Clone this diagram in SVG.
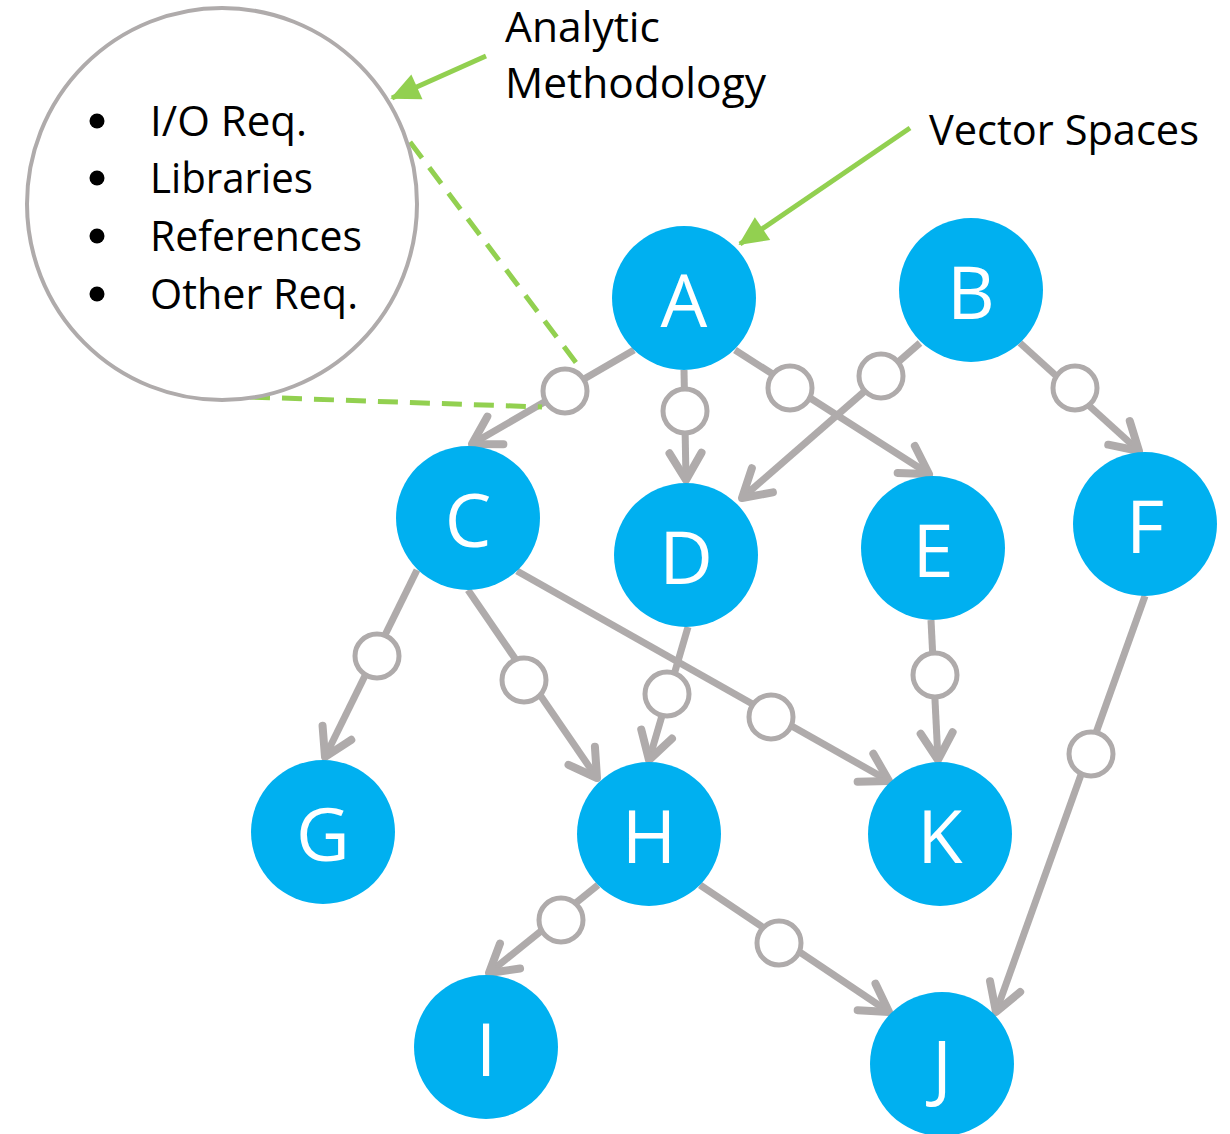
<svg xmlns="http://www.w3.org/2000/svg" width="1230" height="1134" viewBox="0 0 1230 1134">
<defs>
<style>
.node circle{fill:#00B0F0}
.node text{fill:#fff;font-family:"Open Sans","Liberation Sans",sans-serif;font-size:74px;text-anchor:middle}
.edge{stroke:#AFABAB;stroke-width:7;fill:none}
.knot{fill:#fff;stroke:#AFABAB;stroke-width:5}
.lbl{font-family:"Open Sans","Liberation Sans",sans-serif;font-size:42px;fill:#000}
.green{stroke:#92D050;stroke-width:5;fill:none}
.gdash{stroke:#92D050;stroke-width:5;fill:none;stroke-dasharray:20 12}
</style>
<marker id="arr" markerUnits="userSpaceOnUse" markerWidth="40" markerHeight="40" refX="0" refY="0" viewBox="-36 -20 40 40" orient="auto" overflow="visible">
<path d="M-27,-16 L0,0 L-27,16" stroke="#AFABAB" stroke-width="8" fill="none" stroke-linecap="round" stroke-linejoin="round"/>
</marker>
<marker id="garr" markerUnits="userSpaceOnUse" markerWidth="40" markerHeight="40" refX="0" refY="0" viewBox="-40 -20 44 40" orient="auto" overflow="visible">
<path d="M2,0 L-30,-15 L-30,15 Z" fill="#92D050"/>
</marker>
</defs>

<g id="connectors">
<line class="edge" x1="634" y1="350" x2="472" y2="444" marker-end="url(#arr)"/>
<line class="edge" x1="684" y1="370" x2="686" y2="480" marker-end="url(#arr)"/>
<line class="edge" x1="735" y1="350" x2="929" y2="474" marker-end="url(#arr)"/>
<line class="edge" x1="920" y1="343" x2="742" y2="498" marker-end="url(#arr)"/>
<line class="edge" x1="1020" y1="343" x2="1139" y2="451" marker-end="url(#arr)"/>
<line class="edge" x1="417" y1="570" x2="325" y2="757" marker-end="url(#arr)"/>
<line class="edge" x1="468" y1="590" x2="597" y2="778" marker-end="url(#arr)"/>
<line class="edge" x1="517" y1="571" x2="889" y2="781" marker-end="url(#arr)"/>
<line class="edge" x1="688" y1="627" x2="649" y2="760" marker-end="url(#arr)"/>
<line class="edge" x1="931" y1="620" x2="938" y2="760" marker-end="url(#arr)"/>
<line class="edge" x1="1145" y1="596" x2="996" y2="1012" marker-end="url(#arr)"/>
<line class="edge" x1="598" y1="885" x2="489" y2="973" marker-end="url(#arr)"/>
<line class="edge" x1="700" y1="885" x2="889" y2="1012" marker-end="url(#arr)"/>
<circle class="knot" cx="565" cy="391" r="22"/>
<circle class="knot" cx="685" cy="411" r="22"/>
<circle class="knot" cx="790" cy="388" r="22"/>
<circle class="knot" cx="881" cy="376" r="22"/>
<circle class="knot" cx="1075" cy="388" r="22"/>
<circle class="knot" cx="377" cy="656" r="22"/>
<circle class="knot" cx="524" cy="680" r="22"/>
<circle class="knot" cx="771" cy="717" r="22"/>
<circle class="knot" cx="667" cy="694" r="22"/>
<circle class="knot" cx="935" cy="675" r="22"/>
<circle class="knot" cx="1091" cy="754" r="22"/>
<circle class="knot" cx="561" cy="920" r="22"/>
<circle class="knot" cx="779" cy="943" r="22"/>
<line class="gdash" x1="410" y1="142" x2="583" y2="372"/>
<line class="gdash" x1="250" y1="397" x2="542" y2="407"/>
<line class="green" x1="486" y1="56" x2="392" y2="98" marker-end="url(#garr)"/>
<line class="green" x1="910" y1="128" x2="740" y2="244" marker-end="url(#garr)"/>
</g>

<g id="methodology">
<ellipse cx="222" cy="204" rx="195" ry="196" fill="#fff" stroke="#AFABAB" stroke-width="4"/>
<circle cx="97" cy="121" r="7.5"/>
<circle cx="97" cy="178" r="7.5"/>
<circle cx="97" cy="236" r="7.5"/>
<circle cx="97" cy="294" r="7.5"/>
<text class="lbl" x="150" y="136" textLength="157" lengthAdjust="spacingAndGlyphs">I/O Req.</text>
<text class="lbl" x="150" y="193" textLength="163" lengthAdjust="spacingAndGlyphs">Libraries</text>
<text class="lbl" x="150" y="251" textLength="212" lengthAdjust="spacingAndGlyphs">References</text>
<text class="lbl" x="150" y="309" textLength="208" lengthAdjust="spacingAndGlyphs">Other Req.</text>
</g>

<g id="label-analytic">
<text class="lbl" x="505" y="42" textLength="155" lengthAdjust="spacingAndGlyphs">Analytic</text>
<text class="lbl" x="505" y="98" textLength="261" lengthAdjust="spacingAndGlyphs">Methodology</text>
</g>
<g id="label-vector">
<text class="lbl" x="929" y="145" textLength="270" lengthAdjust="spacingAndGlyphs">Vector Spaces</text>
</g>

<g id="node-A" class="node"><circle cx="684" cy="298" r="72"/><text x="684" y="327">A</text></g>
<g id="node-B" class="node"><circle cx="971" cy="290" r="72"/><text x="971" y="319">B</text></g>
<g id="node-C" class="node"><circle cx="468" cy="518" r="72"/><text x="468" y="547">C</text></g>
<g id="node-D" class="node"><circle cx="686" cy="555" r="72"/><text x="686" y="584">D</text></g>
<g id="node-E" class="node"><circle cx="933" cy="548" r="72"/><text x="933" y="577">E</text></g>
<g id="node-F" class="node"><circle cx="1145" cy="524" r="72"/><text x="1145" y="553">F</text></g>
<g id="node-G" class="node"><circle cx="323" cy="832" r="72"/><text x="323" y="861">G</text></g>
<g id="node-H" class="node"><circle cx="649" cy="834" r="72"/><text x="649" y="863">H</text></g>
<g id="node-K" class="node"><circle cx="940" cy="834" r="72"/><text x="940" y="863">K</text></g>
<g id="node-I" class="node"><circle cx="486" cy="1047" r="72"/><text x="486" y="1076">I</text></g>
<g id="node-J" class="node"><circle cx="942" cy="1064" r="72"/><text x="942" y="1093">J</text></g>
</svg>
